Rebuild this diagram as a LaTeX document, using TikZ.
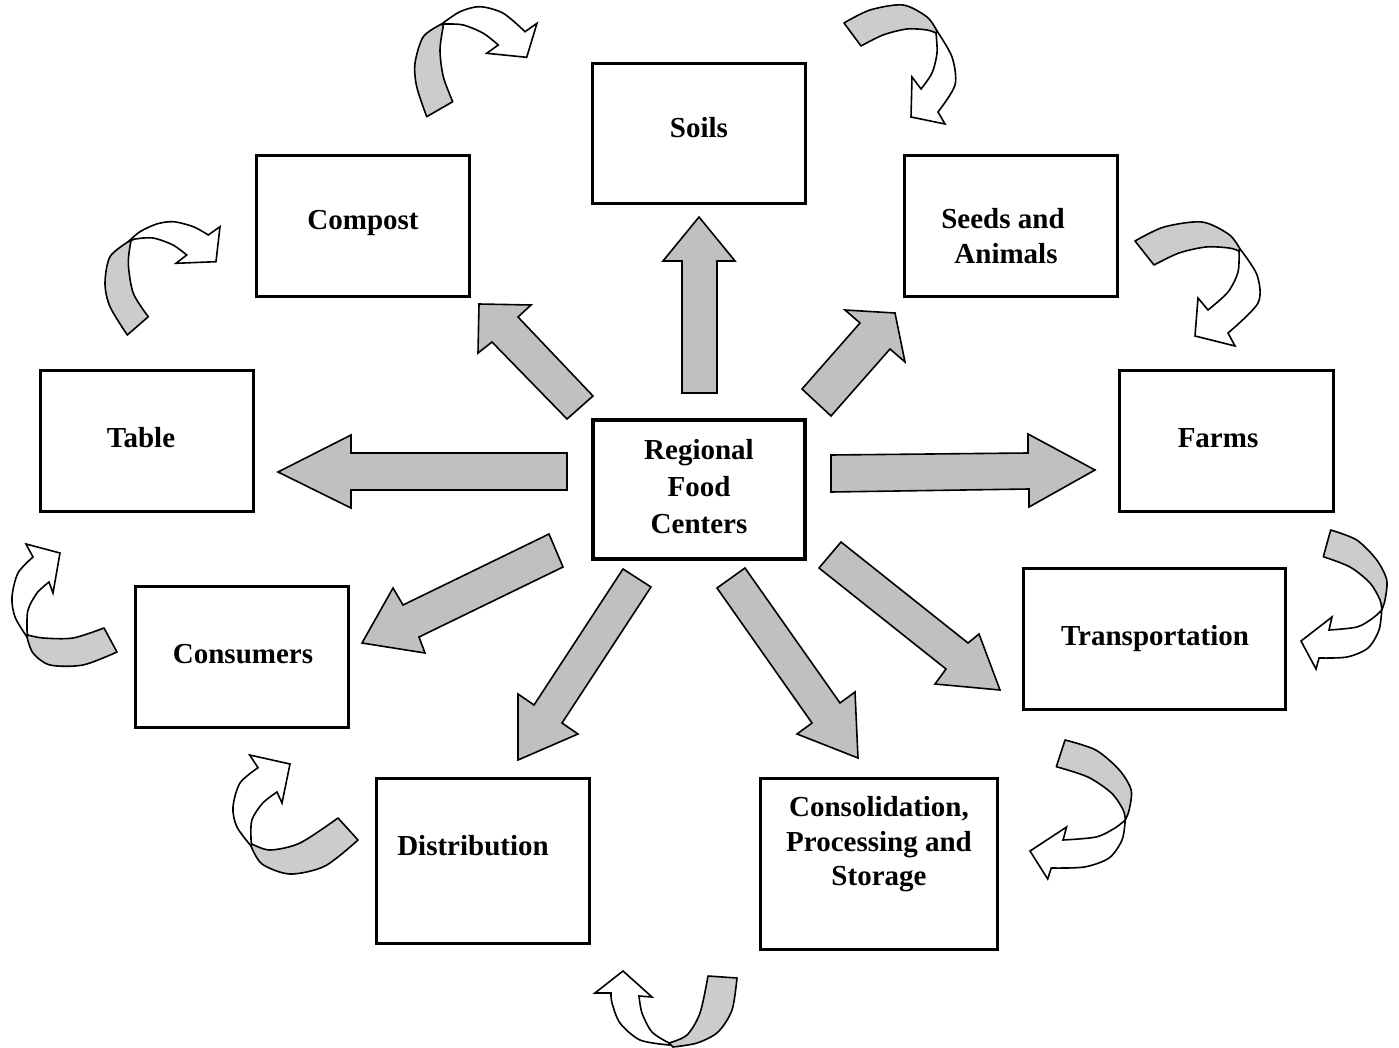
\documentclass[tikz,border=0pt]{standalone}
\usepackage{fontspec}
\setmainfont{Liberation Serif}
\definecolor{arrowgray}{RGB}{192,192,192}
\definecolor{bandgray}{RGB}{204,204,204}
\tikzset{
  box/.style={draw, line width=3pt, inner sep=0pt, outer sep=0pt},
  lbl/.style={font=\fontsize{29}{35}\selectfont\bfseries, anchor=base, inner sep=0pt},
  blockarrow/.style={draw, fill=arrowgray, line width=1.6pt, line join=miter},
  band/.style={draw, fill=bandgray, line width=1.6pt, line join=round},
  front/.style={draw, fill=white, line width=1.6pt, line join=miter},
}
\newcommand{\CurvF}{%
  \filldraw[front] plot[smooth] coordinates {(1381.7,610) (1379,630) (1368,648) (1347,657) (1319,658)} -- (1316,669) -- (1301,641) -- (1332,617) -- (1329,630) -- plot[smooth] coordinates {(1329,630) (1357,627) (1373,618) (1381.7,610)} -- cycle;
  \filldraw[band] plot[smooth] coordinates {(1330.7,530) (1356.7,540) (1376.7,560) (1386.7,580) (1385,600) (1381.7,610)} -- plot[smooth] coordinates {(1381.7,610) (1380,600) (1370,583) (1350,567) (1323.3,556.7)} -- cycle;
}
\begin{document}
\begin{tikzpicture}[x=1pt,y=-1pt]
\useasboundingbox (0,0) rectangle (1399,1048);

% boxes
\node[box, minimum width=213pt, minimum height=140pt] (soils) at (699,133.5) {};
\node[box, minimum width=213pt, minimum height=141pt] (compost) at (363,226) {};
\node[box, minimum width=213pt, minimum height=141pt] (seeds) at (1011,226) {};
\node[box, minimum width=213pt, minimum height=141pt] (table) at (147,441) {};
\node[box, minimum width=214pt, minimum height=141pt] (farms) at (1226.5,441) {};
\node[box, line width=4pt, minimum width=212pt, minimum height=139pt] (center) at (699,489.5) {};
\node[box, minimum width=262pt, minimum height=141pt] (transport) at (1154.5,639) {};
\node[box, minimum width=213pt, minimum height=141pt] (consumers) at (242,657) {};
\node[box, minimum width=213pt, minimum height=165pt] (distribution) at (483,861) {};
\node[box, minimum width=237pt, minimum height=171pt] (consolidation) at (879,864) {};

% labels
\node[lbl] (tSoils) at (699,138) {Soils};
\node[lbl] (tCompost) at (363,230) {Compost};
\node[lbl] (tSeedsA) at (1003,229) {Seeds and};
\node[lbl] (tSeedsB) at (1006,264) {Animals};
\node[lbl] (tTable) at (141,447) {Table};
\node[lbl] (tFarms) at (1218,447) {Farms};
\node[lbl] (tRegA) at (699,459) {Regional};
\node[lbl] (tRegB) at (699,496) {Food};
\node[lbl] (tRegC) at (699,533) {Centers};
\node[lbl] (tTransport) at (1155,645) {Transportation};
\node[lbl] (tConsumers) at (243,663) {Consumers};
\node[lbl] (tDistribution) at (473,855) {Distribution};
\node[lbl] (tConsA) at (879,816) {Consolidation,};
\node[lbl] (tConsB) at (879,851) {Processing and};
\node[lbl] (tConsC) at (879,885) {Storage};

% block arrows from the centre
\filldraw[blockarrow] (699,217) -- (735,261) -- (717,261) -- (717,393) -- (682,393) -- (682,261) -- (663,261) -- cycle;
\filldraw[blockarrow] (479,304) -- (531,305) -- (518,317) -- (593,396) -- (567,419) -- (492,342) -- (478,353) -- cycle;
\filldraw[blockarrow] (895,313) -- (905,362) -- (890,349) -- (831,416) -- (802,389) -- (860,323) -- (845,310) -- cycle;
\filldraw[blockarrow] (278,472) -- (351,435) -- (351,453) -- (567,453) -- (567,490) -- (351,490) -- (351,508) -- cycle;
\filldraw[blockarrow] (1095,470) -- (1028,434) -- (1028,453) -- (831,455) -- (831,492) -- (1029,489) -- (1029,507) -- cycle;
\filldraw[blockarrow] (362,643) -- (393,588) -- (403,605) -- (549,534) -- (563,567) -- (419,637) -- (425,653) -- cycle;
\filldraw[blockarrow] (518,760) -- (518,694) -- (534,705) -- (623,569) -- (651,587) -- (562,723) -- (578,734) -- cycle;
\filldraw[blockarrow] (858,758) -- (797,734) -- (812,723) -- (717,588) -- (745,568) -- (840,703) -- (855,692) -- cycle;
\filldraw[blockarrow] (1000,690) -- (935,684) -- (946,669) -- (819,568) -- (841,542) -- (968,643) -- (979,634) -- cycle;

% curved arrows around the cycle
% compost -> soils
\filldraw[front] plot[smooth] coordinates {(441.7,24) (460,11.7) (480,6.7) (503.3,13.3) (525,31.7)} -- (537,23.3) -- (526.7,57.3) -- (486.7,53.3) -- (498.3,45) -- plot[smooth] coordinates {(498.3,45) (483.3,33.3) (463.3,25) (445,24)} -- cycle;
\filldraw[band] plot[smooth] coordinates {(426.7,116.7) (416.7,86.7) (415,63.3) (423.3,36.7) (441.7,24)} -- plot[smooth] coordinates {(443.3,26) (440,50) (443.3,76.7) (452.7,101.7)} -- cycle;
% soils -> seeds
\filldraw[front] plot[smooth] coordinates {(937,31) (952,57) (955,85) (938,112)} -- (945,124) -- (911,117) -- (912,77) -- (921,89) -- plot[smooth] coordinates {(921,89) (932,73) (937,53) (936,33)} -- cycle;
\filldraw[band] plot[smooth] coordinates {(844,23) (870,10) (903,5) (927,17) (937,31)} -- plot[smooth] coordinates {(936,33) (927,30) (907,29) (883,35) (861,46)} -- cycle;
% seeds -> farms
\filldraw[front] plot[smooth] coordinates {(1240,249) (1257,275) (1258,303) (1228,333)} -- (1235,346) -- (1195,336) -- (1198,298) -- (1208,310) -- plot[smooth] coordinates {(1208,310) (1228,292) (1238,272) (1239,251)} -- cycle;
\filldraw[band] plot[smooth] coordinates {(1135,241) (1164,227) (1202,222) (1229,234.5) (1240,249)} -- plot[smooth] coordinates {(1239,251) (1229,248) (1206,247) (1179,253) (1154,265)} -- cycle;
% farms -> transportation
\CurvF
% transportation -> consolidation
\begin{scope}[shift={(1030,740)}, xscale=1.18, yscale=1.0, shift={(-1301,-530)}]
\CurvF
\end{scope}
% consolidation -> distribution
\filldraw[front] plot[smooth] coordinates {(669,1045) (640,1040) (620,1023) (612,1003) (611,993)} -- (595,993) -- (623,971) -- (652,997) -- (639,996) -- plot[smooth] coordinates {(639,996) (642,1013) (652,1032) (669,1043)} -- cycle;
\filldraw[band] plot[smooth] coordinates {(708,976) (700,1013) (687,1035) (669,1043)} -- plot[smooth] coordinates {(673,1047) (697,1043) (718,1032) (732,1010) (737,978)} -- cycle;
% distribution -> consumers
\filldraw[front] plot[smooth] coordinates {(251,846) (236.7,826.5) (233,807) (240,783) (258,767.7)} -- (249.7,755) -- (290,764) -- (282,803) -- (277,792) -- plot[smooth] coordinates {(277,792) (262.8,803) (252,819.7) (251,839) (252,846)} -- cycle;
\filldraw[band] plot[smooth] coordinates {(358,840) (325,866) (290,874) (262,864) (251,846)} -- plot[smooth] coordinates {(252,844) (270,850) (300,843) (338,818)} -- cycle;
% consumers -> table
\filldraw[front] plot[smooth] coordinates {(27,637) (15,617) (12,597) (18,573) (33,557)} -- (26,544) -- (60,553) -- (53,593) -- (49,582) -- plot[smooth] coordinates {(49,582) (37,593) (28,610) (27,630) (28,637)} -- cycle;
\filldraw[band] plot[smooth] coordinates {(117,652) (83,665) (50,665) (33,653) (27,637)} -- plot[smooth] coordinates {(28,635) (43,638) (73,638) (104,628)} -- cycle;
% table -> compost
\filldraw[front] plot[smooth] coordinates {(128.3,241.7) (140,231.7) (156.7,224) (173.3,221.7) (193.3,226.7) (208.3,235)} -- (220,226.7) -- (216,261.7) -- (176,263.3) -- (186.7,255) -- plot[smooth] coordinates {(186.7,255) (173,245) (153,238) (135,239) (131,241)} -- cycle;
\filldraw[band] plot[smooth] coordinates {(127.3,335) (110,306.7) (105,283.3) (110,256.7) (128.3,241.7)} -- plot[smooth] coordinates {(131,240.7) (128.3,263.3) (133.3,293.3) (148.3,316.7)} -- cycle;
\end{tikzpicture}
\end{document}
